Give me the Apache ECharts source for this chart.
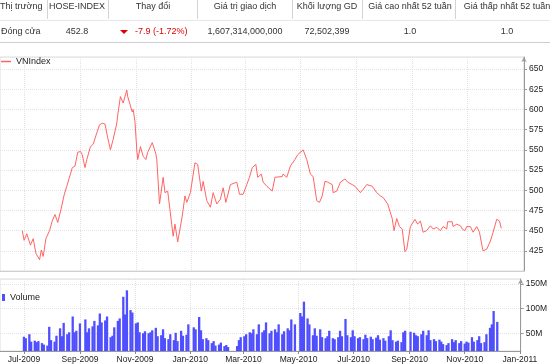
<!DOCTYPE html>
<html><head><meta charset="utf-8">
<script src="https://cdn.jsdelivr.net/npm/echarts@6/dist/echarts.min.js"></script>
<style>
html,body{margin:0;padding:0;background:#fff;}
#wrap{position:relative;width:550px;height:364px;overflow:hidden;font-family:"Liberation Sans",Arial,sans-serif;}
#chart{position:absolute;left:0;top:0;width:550px;height:364px;}
.c{position:absolute;font-size:9px;color:#333;white-space:nowrap;transform:translateX(-50%);line-height:11px;}
.l{position:absolute;font-size:9px;color:#333;white-space:nowrap;line-height:11px;}
.vs{position:absolute;top:0;width:1px;height:19px;background:#d4d4d4;}
.hs{position:absolute;left:0;width:550px;height:1px;}
.tri{position:absolute;left:120px;top:30px;width:0;height:0;border-left:4px solid transparent;border-right:4px solid transparent;border-top:4px solid #e00000;}
</style></head>
<body><div id="wrap"><div id="chart"></div><div id="tbl"></div></div>
<script>
// ---------- table text ----------
const headerLabels = ['Thị trường','HOSE-INDEX','Thay đổi','Giá trị giao dịch','Khối lượng GD','Giá cao nhất 52 tuần','Giá thấp nhất 52 tuần'];
const rowLabels = ['Đóng cửa','452.8','-7.9 (-1.72%)','1,607,314,000,000','72,502,399','1.0','1.0'];

// ---------- price series (VNIndex) ----------
const priceDates = ['2009-06-29','2009-07-01','2009-07-04','2009-07-08','2009-07-11','2009-07-14','2009-07-18','2009-07-20','2009-07-22','2009-07-25',
'2009-07-29','2009-08-01','2009-08-04','2009-08-07','2009-08-11','2009-08-14','2009-08-17','2009-08-21','2009-08-23','2009-08-26',
'2009-08-29','2009-09-01','2009-09-03','2009-09-06','2009-09-08','2009-09-12','2009-09-15','2009-09-19','2009-09-22','2009-09-25',
'2009-09-28','2009-09-30','2009-10-01','2009-10-04','2009-10-07','2009-10-11','2009-10-12','2009-10-15','2009-10-18','2009-10-22',
'2009-10-23','2009-10-28','2009-10-29','2009-10-31','2009-11-02','2009-11-03','2009-11-06','2009-11-09','2009-11-12','2009-11-14',
'2009-11-19','2009-11-21','2009-11-23','2009-11-24','2009-11-27','2009-12-01','2009-12-03','2009-12-06','2009-12-12','2009-12-14',
'2009-12-17','2009-12-22','2009-12-25','2009-12-27','2009-12-31','2010-01-05','2010-01-08','2010-01-12','2010-01-14','2010-01-18',
'2010-01-22','2010-01-25','2010-01-29','2010-02-02','2010-02-05','2010-02-08','2010-02-13','2010-02-20','2010-02-23','2010-02-27',
'2010-03-03','2010-03-06','2010-03-09','2010-03-11','2010-03-13','2010-03-15','2010-03-19','2010-03-21','2010-03-25','2010-03-31',
'2010-04-03','2010-04-11','2010-04-12','2010-04-16','2010-04-20','2010-04-25','2010-04-28','2010-05-04','2010-05-08','2010-05-12',
'2010-05-15','2010-05-19','2010-05-22','2010-05-25','2010-05-28','2010-05-31','2010-06-05','2010-06-06','2010-06-10','2010-06-14',
'2010-06-19','2010-06-22','2010-06-27','2010-06-30','2010-07-06','2010-07-09','2010-07-13','2010-07-19','2010-07-24','2010-07-28',
'2010-07-31','2010-08-05','2010-08-10','2010-08-12','2010-08-15','2010-08-18','2010-08-21','2010-08-24','2010-08-26','2010-08-30',
'2010-09-04','2010-09-07','2010-09-10','2010-09-13','2010-09-17','2010-09-21','2010-09-24','2010-09-28','2010-10-02','2010-10-05',
'2010-10-09','2010-10-10','2010-10-15','2010-10-16','2010-10-20','2010-10-24','2010-10-26','2010-10-29','2010-10-31','2010-11-04',
'2010-11-07','2010-11-11','2010-11-14','2010-11-17','2010-11-18','2010-11-22','2010-11-26','2010-11-29','2010-12-03','2010-12-06',
'2010-12-08'];
const priceValues = [450,438,446,432,440,422,414,426,418,440,
450,462,470,460,478,494,505,520,528,530,
547,548,544,528,538,554,557,571,581,583,
582,581,565,550,563,583,593,616,608,624,
616,597,600,585,550,538,554,542,538,547,
559,557,545,538,483,516,497,499,443,458,
436,468,493,485,497,534,532,499,511,487,
479,497,483,489,503,485,507,510,495,495,
507,516,528,526,532,516,520,510,505,499,
516,517,520,516,530,538,544,550,538,520,
517,487,485,493,511,510,507,497,499,510,
514,510,507,505,497,501,507,505,497,493,
491,483,465,450,465,455,452,424,427,455,
464,458,462,448,450,456,452,454,450,455,
452,461,461,455,458,456,452,450,455,455,
448,455,448,430,425,427,437,448,464,462,
452.8];

// ---------- volume series (millions, every other trading day from 2009-07-01) ----------
const volumeValues = [43,40,48,33,35,32,34,30,27,25,
63,36,33,45,60,44,71,48,52,84,
52,55,70,null,78,52,60,64,75,66,
90,72,76,84,42,45,62,75,80,124,
88,137,97,92,70,72,52,50,54,50,
52,56,61,44,46,58,40,38,48,36,
51,34,55,45,47,68,null,62,58,83,
56,38,40,36,30,34,25,27,31,24,
26,22,null,null,24,36,42,44,48,52,
50,58,48,68,52,56,72,50,55,58,
52,68,48,54,60,56,78,68,null,91,
84,114,80,68,46,60,45,58,42,40,
44,55,40,38,42,55,44,79,46,42,
56,44,40,42,38,47,40,43,38,41,
46,37,40,35,44,56,36,33,35,32,
52,55,null,53,51,46,44,48,55,46,
56,36,38,34,37,33,28,26,30,38,
32,36,30,34,29,33,31,42,33,36,
44,30,32,48,61,68,95,73];

// ---------- axis tick labels ----------
const xTickDates = ['2009-07-01','2009-09-01','2009-11-01','2010-01-01','2010-03-01','2010-05-01','2010-07-01','2010-09-01','2010-11-01','2011-01-01'];
const monthNames = ['Jan','Feb','Mar','Apr','May','Jun','Jul','Aug','Sep','Oct','Nov','Dec'];

function ts(s){ const p = s.split('-').map(Number); return new Date(p[0], p[1]-1, p[2]).getTime(); }

// ---------- build table ----------
(function(){
  const tbl = document.getElementById('tbl');
  const centers = [null,77,153,245,327,410,507];
  const seps = [47,108,197,292,362,455];
  let h = '';
  h += '<div class="hs" style="top:20px;background:#e6e6e6"></div>';
  h += '<div class="hs" style="top:42px;background:#cfcfcf"></div>';
  seps.forEach(x => { h += '<div class="vs" style="left:'+x+'px"></div>'; });
  headerLabels.forEach((t,i) => {
    if (i===0) h += '<div class="l" style="left:0px;top:1px">'+t+'</div>';
    else h += '<div class="c" style="left:'+centers[i]+'px;top:1px">'+t+'</div>';
  });
  rowLabels.forEach((t,i) => {
    if (i===0) h += '<div class="l" style="left:1px;top:26px">'+t+'</div>';
    else if (i===2) h += '<div class="tri"></div><div class="l" style="left:135px;top:26px;color:#e00000">'+t+'</div>';
    else h += '<div class="c" style="left:'+centers[i]+'px;top:26px">'+t+'</div>';
  });
  tbl.innerHTML = h;
})();

// ---------- chart ----------
const volDates = [];
(function(){
  let d = new Date(2009,6,1), k = 0;
  while (volDates.length < volumeValues.length) {
    const wd = d.getDay();
    if (wd !== 0 && wd !== 6) { if (k % 2 === 0) volDates.push(d.getTime()); k++; }
    d = new Date(d.getFullYear(), d.getMonth(), d.getDate()+1);
  }
})();
const priceData = priceDates.map((d,i) => [ts(d), priceValues[i]]);
const volData = volumeValues.map((v,i) => [volDates[i], v]);
const tickTs = xTickDates.map(ts);
const xMin = new Date(2009,5,4,12).getTime();
const xMax = new Date(2011,0,2).getTime();
const gridLine = {show:true, lineStyle:{color:'#e2e2e2', type:'dotted', width:1}};
const fontFam = '"Liberation Sans", Arial, sans-serif';

const chart = echarts.init(document.getElementById('chart'));
chart.setOption({
  animation:false,
  textStyle:{fontFamily:fontFam},
  legend:[
    {data:[{name:'VNIndex', icon:'rect'}], left:1, top:57, padding:0, itemWidth:10, itemHeight:1.5, selectedMode:false,
     textStyle:{fontSize:9, color:'#222', fontFamily:fontFam}},
    {data:[{name:'Volume', icon:'rect'}], left:2, top:293, padding:0, itemWidth:3, itemHeight:7, selectedMode:false,
     textStyle:{fontSize:9, color:'#222', fontFamily:fontFam}}
  ],
  grid:[
    {left:0, right:26, top:57, height:214, show:true, borderColor:'#dddddd', borderWidth:1, backgroundColor:'#fff'},
    {left:0, right:26, top:279, height:72, show:true, borderColor:'#dddddd', borderWidth:1, backgroundColor:'#fff'}
  ],
  xAxis:[
    {type:'value', gridIndex:0, min:xMin, max:xMax,
     axisLabel:{show:false, customValues:tickTs}, axisTick:{show:false, customValues:tickTs},
     axisLine:{lineStyle:{color:'#cfcfcf'}}, splitLine:gridLine},
    {type:'value', gridIndex:1, min:xMin, max:xMax,
     axisLabel:{customValues:tickTs, fontSize:8.5, color:'#222', margin:4, fontFamily:fontFam,
       formatter:function(v){ const d = new Date(v); return monthNames[d.getMonth()] + '-' + d.getFullYear(); }},
     axisTick:{customValues:tickTs, length:3, lineStyle:{color:'#888'}},
     axisLine:{lineStyle:{color:'#999'}}, splitLine:gridLine}
  ],
  yAxis:[
    {type:'value', gridIndex:0, position:'right', min:400, max:665, interval:25,
     axisLine:{show:true, lineStyle:{color:'#999'}, symbol:['none','arrow'], symbolSize:[4,5]},
     axisTick:{show:true, length:3, lineStyle:{color:'#999'}},
     axisLabel:{fontSize:8.5, color:'#222', margin:5, showMinLabel:false, showMaxLabel:false, fontFamily:fontFam},
     splitLine:gridLine},
    {type:'value', gridIndex:1, position:'right', min:14, max:160, splitNumber:3, minInterval:50, maxInterval:50,
     axisLine:{show:true, lineStyle:{color:'#999'}, symbol:['none','arrow'], symbolSize:[4,5]},
     axisTick:{show:true, length:3, lineStyle:{color:'#999'}},
     axisLabel:{fontSize:8.5, color:'#222', margin:5, showMinLabel:false, showMaxLabel:false, fontFamily:fontFam,
       formatter:function(v){ return v + 'M'; }},
     splitLine:gridLine}
  ],
  series:[
    {name:'VNIndex', type:'line', xAxisIndex:0, yAxisIndex:0, data:priceData, showSymbol:false, symbol:'none',
     lineStyle:{color:'#ff6464', width:1}, itemStyle:{color:'#ff6464'}},
    {name:'Volume', type:'bar', xAxisIndex:1, yAxisIndex:1, data:volData, barWidth:2.3,
     itemStyle:{color:'#4f4fff'}}
  ]
});
</script></body></html>
